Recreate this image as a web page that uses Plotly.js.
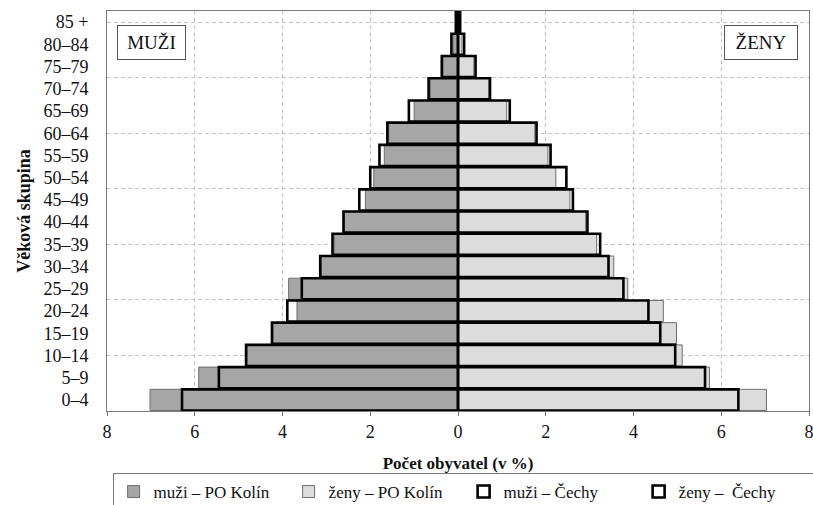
<!DOCTYPE html>
<html>
<head>
<meta charset="utf-8">
<script src="https://cdn.plot.ly/plotly-3.0.1.min.js"></script>
<style>html,body{margin:0;padding:0;background:#fff;}#chart{width:813px;height:505px;}</style>
</head>
<body>
<div id="chart"></div>
<script>
const ages = ['0–4','5–9','10–14','15–19','20–24','25–29','30–34','35–39','40–44','45–49','50–54','55–59','60–64','65–69','70–74','75–79','80–84','85 +'];
const menKolin   = [7.02, 5.91, 4.81, 4.22, 3.67, 3.86, 3.12, 2.82, 2.59, 2.11, 1.92, 1.68, 1.58, 1.00, 0.63, 0.34, 0.11, 0.04];
const menCechy   = [6.29, 5.45, 4.83, 4.24, 3.89, 3.56, 3.14, 2.86, 2.61, 2.25, 2.00, 1.79, 1.61, 1.12, 0.67, 0.37, 0.15, 0.05];
const womenKolin = [7.03, 5.73, 5.11, 4.98, 4.68, 3.87, 3.55, 3.16, 2.91, 2.55, 2.23, 2.05, 1.75, 1.11, 0.70, 0.36, 0.09, 0.04];
const womenCechy = [6.39, 5.63, 4.95, 4.61, 4.34, 3.77, 3.43, 3.24, 2.95, 2.62, 2.47, 2.11, 1.79, 1.18, 0.73, 0.40, 0.14, 0.05];
const xTickVals = [-8,-6,-4,-2,0,2,4,6,8];
const xTickText = ['8','6','4','2','0','2','4','6','8'];
const seriesNames = ['muži – PO Kolín','ženy – PO Kolín','muži – Čechy','ženy –\u00a0 Čechy'];

const FONT = 'Liberation Serif, Times New Roman, serif';
const BW = 0.95;
const GRID = '#c4c4c4';
const FRAME = '#7a7a7a';

const traces = [
  {type:'bar', orientation:'h', name:seriesNames[0], y:ages, x:menKolin.map(v=>-v), width:BW,
   marker:{color:'#a6a6a6', line:{color:'#6e6e6e', width:1}}, hoverinfo:'skip'},
  {type:'bar', orientation:'h', name:seriesNames[1], y:ages, x:womenKolin, width:BW,
   marker:{color:'#dcdcdc', line:{color:'#6e6e6e', width:1}}, hoverinfo:'skip'},
  {type:'bar', orientation:'h', name:seriesNames[2], y:ages, x:menCechy.map(v=>-v), width:BW,
   marker:{color:'rgba(255,255,255,0)', line:{color:'#000', width:2.6}}, hoverinfo:'skip'},
  {type:'bar', orientation:'h', name:seriesNames[3], y:ages, x:womenCechy, width:BW,
   marker:{color:'rgba(255,255,255,0)', line:{color:'#000', width:2.6}}, hoverinfo:'skip'},
  // empty helper trace so the secondary (grid-only) axis is drawn
  {type:'scatter', mode:'markers', x:[], y:[], yaxis:'y2', showlegend:false, hoverinfo:'skip'}
];

const layout = {
  width:813, height:505,
  margin:{l:107, r:4, t:11, b:94, autoexpand:false},
  paper_bgcolor:'#fff', plot_bgcolor:'#fff',
  font:{family:FONT, color:'#111', size:18},
  barmode:'overlay',
  showlegend:true,
  xaxis:{
    range:[-8,8], tickmode:'array', tickvals:xTickVals, ticktext:xTickText,
    showgrid:true, gridcolor:GRID, griddash:'4px,3px', gridwidth:1,
    zeroline:false, showline:true, mirror:true, linecolor:FRAME, linewidth:1,
    ticks:'outside', ticklen:4, tickcolor:FRAME, ticklabeloverflow:'allow',
    tickfont:{family:FONT, size:18, color:'#111'},
    title:{text:'<b>Počet obyvatel (v %)</b>', font:{family:FONT, size:17, color:'#111'}, standoff:16},
    fixedrange:true, automargin:false
  },
  yaxis:{
    type:'category', categoryorder:'array', categoryarray:ages, range:[-0.5,17.5],
    tickmode:'array', tickvals:ages, ticktext:ages,
    showgrid:false, zeroline:false, showline:true, mirror:true, linecolor:FRAME, linewidth:1,
    ticks:'', ticklabelstandoff:14,
    tickfont:{family:FONT, size:18, color:'#111'},
    title:{text:'<b>Věková skupina</b>', font:{family:FONT, size:18, color:'#111'}, standoff:8},
    fixedrange:true, automargin:false
  },
  yaxis2:{
    overlaying:'y', anchor:'x', side:'left', range:[-0.5,17.5], tick0:-0.5, dtick:2.5,
    showgrid:true, gridcolor:GRID, griddash:'4px,3px', gridwidth:1,
    showticklabels:false, ticks:'', showline:false, zeroline:false, fixedrange:true
  },
  legend:{
    orientation:'h', x:0.508, xanchor:'center', y:-0.155, yanchor:'top',
    bordercolor:FRAME, borderwidth:1, bgcolor:'#fff',
    font:{family:FONT, size:17, color:'#111'}, traceorder:'normal',
    entrywidth:130, entrywidthmode:'pixels', itemwidth:30
  },
  annotations:[
    {text:'MUŽI', xref:'paper', yref:'paper', x:0.0634, y:0.92, xanchor:'center', yanchor:'middle',
     showarrow:false, font:{family:FONT, size:19, color:'#111'}, bordercolor:'#555', borderwidth:1,
     borderpad:6, bgcolor:'#fff', width:55},
    {text:'ŽENY', xref:'paper', yref:'paper', x:0.9316, y:0.92, xanchor:'center', yanchor:'middle',
     showarrow:false, font:{family:FONT, size:19, color:'#111'}, bordercolor:'#555', borderwidth:1,
     borderpad:6, bgcolor:'#fff', width:60}
  ]
};

Plotly.newPlot('chart', traces, layout, {displayModeBar:false, staticPlot:true});
</script>
</body>
</html>
